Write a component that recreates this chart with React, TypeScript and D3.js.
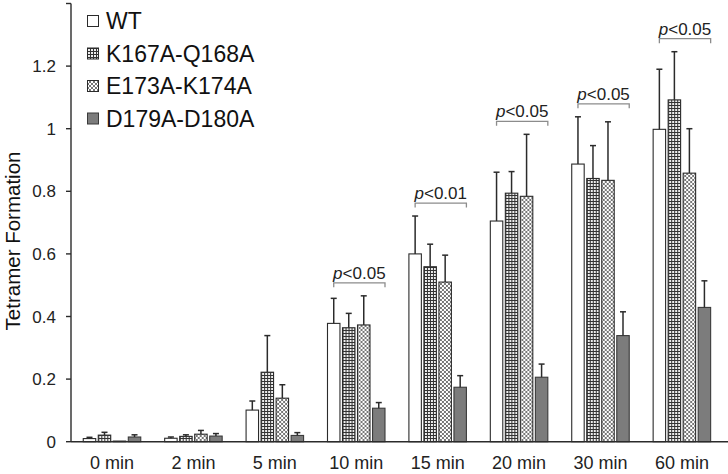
import React from 'react';
import * as d3 from 'd3';

const categories = ['0 min', '2 min', '5 min', '10 min', '15 min', '20 min', '30 min', '60 min'];
const series = ['WT', 'K167A-Q168A', 'E173A-K174A', 'D179A-D180A'];

const wtMean = [0.010, 0.011, 0.101, 0.378, 0.600, 0.705, 0.887, 0.998];
const wtErr = [0.004, 0.004, 0.029, 0.080, 0.121, 0.156, 0.151, 0.192];
const kqMean = [0.021, 0.017, 0.222, 0.364, 0.559, 0.794, 0.841, 1.092];
const kqErr = [0.009, 0.005, 0.117, 0.046, 0.072, 0.069, 0.105, 0.154];
const ekMean = [0.002, 0.024, 0.139, 0.373, 0.510, 0.784, 0.835, 0.858];
const ekErr = [0.0, 0.012, 0.043, 0.093, 0.086, 0.198, 0.187, 0.142];
const ddMean = [0.015, 0.018, 0.020, 0.107, 0.174, 0.206, 0.339, 0.429];
const ddErr = [0.007, 0.008, 0.009, 0.018, 0.037, 0.042, 0.076, 0.085];

const yTicks = [0, 0.2, 0.4, 0.6, 0.8, 1, 1.2, 1.4];
const yTickLabels = ['0', '0.2', '0.4', '0.6', '0.8', '1', '1.2', ''];

const sigCategories = ['10 min', '15 min', '20 min', '30 min', '60 min'];
const sigLabels = ['<0.05', '<0.01', '<0.05', '<0.05', '<0.05'];

const means = [wtMean, kqMean, ekMean, ddMean];
const errs = [wtErr, kqErr, ekErr, ddErr];
const fills = ['#ffffff', 'url(#gridPat)', 'url(#diamondPat)', '#7c7c7c'];

const FONT = '"Liberation Sans", Arial, Helvetica, sans-serif';
const INK = '#2b2b2b';

export default function App() {
  const W = 728;
  const H = 474;
  const x0 = 71;
  const y = d3.scaleLinear().domain([0, 1.4]).range([441.7, 3.5]);
  const x = d3.scaleBand().domain(categories).range([71.3, 722.6]).padding(0);
  const bw = x.bandwidth();
  const groupW = 57.5;
  const inner = d3
    .scaleBand()
    .domain(series)
    .range([(bw - groupW) / 2, (bw + groupW) / 2])
    .paddingInner(0.17)
    .paddingOuter(0);
  const ib = inner.bandwidth();

  return (
    <svg
      width={W}
      height={H}
      style={{ position: 'absolute', left: 0, top: 0, background: '#fff' }}
      fontFamily={FONT}
    >
      <defs>
        <pattern id="gridPat" width={3} height={3} patternUnits="userSpaceOnUse">
          <rect width={3} height={3} fill="#eeeeee" />
          <path d="M0,0.5H3M0.5,0V3" stroke="#333333" strokeWidth={1} />
        </pattern>
        <pattern id="diamondPat" width={4} height={4} patternUnits="userSpaceOnUse">
          <rect width={4} height={4} fill="#ffffff" />
          <path d="M0,0L4,4M4,0L0,4" stroke="#777777" strokeWidth={1} />
        </pattern>
      </defs>

      {/* bars and error bars */}
      {categories.map((c, ci) => (
        <g key={c} transform={`translate(${x(c)},0)`}>
          {series.map((s, si) => {
            const m = means[si][ci];
            const e = errs[si][ci];
            const bx = inner(s) as number;
            const cx = bx + ib / 2;
            return (
              <g key={s}>
                <rect
                  x={bx}
                  y={y(m)}
                  width={ib}
                  height={y(0) - y(m)}
                  fill={fills[si]}
                  stroke={si === 3 ? '#3a3a3a' : INK}
                  strokeWidth={1.1}
                />
                {e > 0 && (
                  <g stroke={INK} strokeWidth={1.5}>
                    <line x1={cx} x2={cx} y1={y(m)} y2={y(m + e)} />
                    <line x1={cx - 3} x2={cx + 3} y1={y(m + e)} y2={y(m + e)} />
                  </g>
                )}
              </g>
            );
          })}
        </g>
      ))}

      {/* significance brackets */}
      {sigCategories.map((c, k) => {
        const ci = categories.indexOf(c);
        const top = d3.max(series.map((_, si) => means[si][ci] + errs[si][ci])) as number;
        const by = y(top) - 13;
        const left = (x(c) as number) + (inner(series[0]) as number) + ib / 2;
        const right = (x(c) as number) + (inner(series[3]) as number) + ib;
        return (
          <g key={c}>
            <path
              d={`M${left},${by + 4.5}V${by}H${right}V${by + 4.5}`}
              fill="none"
              stroke="#8c8c8c"
              strokeWidth={1.3}
            />
            <text
              x={(left + right) / 2}
              y={by - 4}
              textAnchor="middle"
              fontSize={17}
              fill="#222"
            >
              <tspan fontStyle="italic">p</tspan>
              {sigLabels[k]}
            </text>
          </g>
        );
      })}

      {/* y axis */}
      <line x1={x0} x2={x0} y1={y(1.4)} y2={y(0)} stroke={INK} strokeWidth={1.4} />
      {yTicks.map((t, i) => (
        <g key={t}>
          <line x1={x0 - 5} x2={x0} y1={y(t)} y2={y(t)} stroke={INK} strokeWidth={1.4} />
          <text x={56} y={y(t)} dy="0.36em" textAnchor="end" fontSize={17} fill="#222">
            {yTickLabels[i]}
          </text>
        </g>
      ))}
      <text
        transform={`translate(20,241) rotate(-90)`}
        textAnchor="middle"
        fontSize={20.5}
        fill="#111"
      >
        Tetramer Formation
      </text>

      {/* x axis */}
      <line x1={x0} x2={728} y1={y(0)} y2={y(0)} stroke={INK} strokeWidth={1.4} />
      {categories.map((c) => (
        <text
          key={c}
          x={(x(c) as number) + bw / 2}
          y={469}
          textAnchor="middle"
          fontSize={18}
          fill="#222"
        >
          {c}
        </text>
      ))}

      {/* legend */}
      {series.map((s, si) => {
        const cy = 21 + si * 32.5;
        return (
          <g key={s}>
            <rect
              x={87.5}
              y={cy - 5.5}
              width={11}
              height={11}
              fill={fills[si]}
              stroke={si === 3 ? '#3a3a3a' : INK}
              strokeWidth={1}
            />
            <text x={106} y={cy} dy="0.36em" fontSize={23} fill="#111">
              {s}
            </text>
          </g>
        );
      })}
    </svg>
  );
}
